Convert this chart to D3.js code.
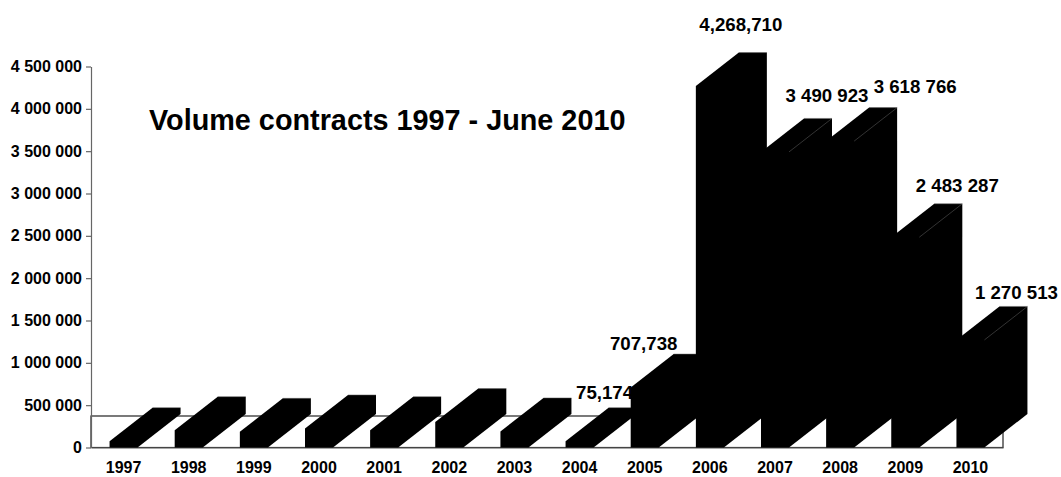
<!DOCTYPE html>
<html>
<head>
<meta charset="utf-8">
<script src="https://cdn.jsdelivr.net/npm/d3@7"></script>
<style>
html,body{margin:0;padding:0;background:#fff}
svg{display:block}
text{font-family:"Liberation Sans",Arial,sans-serif;font-weight:bold;fill:#000}
</style>
</head>
<body>
<svg id="chart" width="1061" height="477"></svg>
<script>
const years = ["1997","1998","1999","2000","2001","2002","2003","2004","2005","2006","2007","2008","2009","2010"];
const volumes = [75174,205000,185000,225000,205000,300000,190000,75174,707738,4268710,3490923,3618766,2483287,1270513];
const valueLabels = ["","","","","","","","75,174","707,738","4,268,710","3 490 923","3 618 766","2 483 287","1 270 513"];
const yTicks = [0,500000,1000000,1500000,2000000,2500000,3000000,3500000,4000000,4500000];
const chartTitle = "Volume contracts 1997 - June 2010";

// Hand-placed label offsets, measured from the centre of each bar's rear top edge.
const labelOffsets = {
  "2004":[-18,-15], "2005":[-44,-11], "2006":[-12,-28], "2007":[9,-23],
  "2008":[32,-21], "2009":[9,-18], "2010":[3,-14]
};

const svg = d3.select("#chart");
const depthX = 43, depthY = 33.5;          // oblique projection of the 3D extrusion
const edge = "#666";

const x = d3.scaleBand().domain(years).range([91,1003]).paddingInner(0.57).paddingOuter(0.285);
const y = d3.scaleLinear().domain([0,4500000]).range([447.5,66.5]);
const spaced = d3.format(",");
const tickFormat = d => spaced(d).replace(/,/g," ");

// Chart floor, seen in perspective behind the bars
svg.append("rect")
  .attr("x",91).attr("y",y(0)-depthY+2)
  .attr("width",912).attr("height",depthY-2)
  .attr("fill","none").attr("stroke","#222").attr("stroke-width",1.2);

// Value axis
const yAxis = svg.append("g").attr("transform","translate(91,0)")
  .call(d3.axisLeft(y).tickValues(yTicks).tickFormat(tickFormat).tickSize(5).tickPadding(4).tickSizeOuter(0));
yAxis.selectAll("path,line").attr("stroke","#666").attr("stroke-width",1.2);
yAxis.selectAll("text").style("font-size","16px");

// Category axis
const xAxis = svg.append("g").attr("transform",`translate(0,${y(0)})`)
  .call(d3.axisBottom(x).tickSize(0).tickPadding(14).tickSizeOuter(0));
xAxis.select("path").attr("stroke","#666").attr("stroke-width",1.2);
xAxis.selectAll("text").style("font-size","16px");

svg.append("text").attr("x",149).attr("y",130).style("font-size","28.8px").text(chartTitle);

// Bars go left to right, each followed by its label, so a later bar may cover an earlier label.
years.forEach((yr,i) => {
  const g = svg.append("g");
  const l = x(yr), r = l + x.bandwidth(), t = y(volumes[i]), b = y(0);
  // Silhouette of the extruded bar: all faces share one solid fill
  const outline = [[l,b],[l,t],[l+depthX,t-depthY],[r+depthX,t-depthY],[r+depthX,b-depthY],[r,b]];
  g.append("path").attr("d",d3.line()(outline)+"Z").attr("fill","#000");
  // Thin light edge along the rear top of the bar
  g.append("path").attr("d",d3.line()([[l+depthX,t-depthY],[r+depthX,t-depthY]]))
    .attr("stroke",edge).attr("stroke-width",0.5).attr("fill","none");
  // Faint ridge between the top and side faces on the tall recent bars
  if (+yr >= 2007) {
    g.append("path").attr("d",d3.line()([[r,t],[r+depthX,t-depthY]]))
      .attr("stroke",edge).attr("stroke-width",0.5).attr("fill","none");
  }
  if (valueLabels[i]) {
    const [ox,oy] = labelOffsets[yr];
    g.append("text")
      .attr("x",(l+r)/2+depthX+ox).attr("y",t-depthY+oy)
      .attr("text-anchor","middle").attr("dominant-baseline","central")
      .style("font-size","18.67px").text(valueLabels[i]);
  }
});
</script>
</body>
</html>
